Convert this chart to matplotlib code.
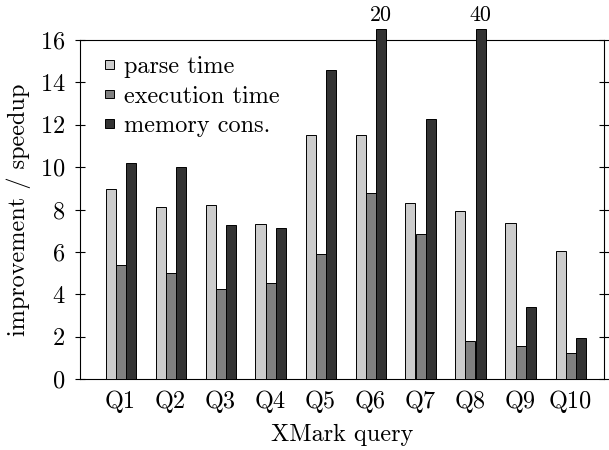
import matplotlib
matplotlib.use("Agg")
import matplotlib.pyplot as plt
import numpy as np

queries = ["Q1", "Q2", "Q3", "Q4", "Q5", "Q6", "Q7", "Q8", "Q9", "Q10"]
parse_time = [8.95, 8.1, 8.2, 7.3, 11.5, 11.5, 8.3, 7.95, 7.35, 6.05]
execution_time = [5.4, 5.0, 4.25, 4.55, 5.9, 8.8, 6.85, 1.8, 1.55, 1.25]
memory_cons = [10.2, 10.0, 7.25, 7.15, 14.6, 20, 12.25, 40, 3.4, 1.95]
series_labels = ["parse time", "execution time", "memory cons."]
yticks = [0, 2, 4, 6, 8, 10, 12, 14, 16]

plt.rcParams['font.family'] = ['cmr10', 'DejaVu Serif']
plt.rcParams['axes.formatter.use_mathtext'] = True
plt.rcParams['mathtext.fontset'] = 'cm'

FS = 17.5
fig = plt.figure(figsize=(6.09, 4.5), dpi=100)
ax = fig.add_axes([80/609, 1-379/450, (603.7-80)/609, (379-40)/450])

colors = ["#cccccc", "#808080", "#333333"]
w = 0.2
x = np.arange(len(queries))
ymax = 16
cap = 16.5
for i, (vals, c, lab) in enumerate(zip([parse_time, execution_time, memory_cons], colors, series_labels)):
    shown = [min(v, cap) for v in vals]
    ax.bar(x + (i - 1) * w, shown, width=w, color=c, edgecolor="black",
           linewidth=0.7, label=lab, clip_on=False, zorder=3)
    for xi, v in zip(x, vals):
        if v > ymax:
            ax.text(xi + (i - 1) * w, cap + 0.22, f"{v:g}", ha="center", va="bottom",
                    fontsize=15.8)

ax.set_xlim(-0.81, 9.664)
ax.set_ylim(0, ymax)
ax.set_yticks(yticks)
ax.set_xticks(x)
ax.set_xticklabels(queries, fontsize=FS)
ax.tick_params(axis="y", direction="inout", length=7, width=0.8, right=True,
               labelsize=FS, pad=7)
ax.tick_params(axis="x", length=0, pad=8)
for s in ax.spines.values():
    s.set_linewidth(0.8)
ax.set_ylabel("improvement / speedup", fontsize=FS, labelpad=6)
ax.set_xlabel("XMark query", fontsize=FS, labelpad=8)

leg = ax.legend(loc="upper left", bbox_to_anchor=(0.0199, 0.995), frameon=False,
                fontsize=FS, handlelength=0.36, handleheight=0.18, handletextpad=0.42,
                labelspacing=0.3, borderaxespad=0.2)

fig.savefig("out.png", dpi=100)
